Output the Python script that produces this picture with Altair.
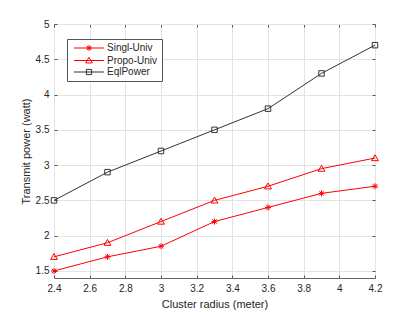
import altair as alt
import pandas as pd

radius = [2.4, 2.7, 3.0, 3.3, 3.6, 3.9, 4.2]
singl_univ = [1.5, 1.7, 1.85, 2.2, 2.4, 2.6, 2.7]
propo_univ = [1.7, 1.9, 2.2, 2.5, 2.7, 2.95, 3.1]
eql_power = [2.5, 2.9, 3.2, 3.5, 3.8, 4.3, 4.7]
series_names = ["Singl-Univ", "Propo-Univ", "EqlPower"]
series_colors = ["#ff0000", "#ff0000", "#333333"]
x_ticks = [2.4, 2.6, 2.8, 3.0, 3.2, 3.4, 3.6, 3.8, 4.0, 4.2]
y_ticks = [1.5, 2, 2.5, 3, 3.5, 4, 4.5, 5]

rows = []
for name, vals in zip(series_names, [singl_univ, propo_univ, eql_power]):
    for r, v in zip(radius, vals):
        rows.append({"radius": r, "power": v, "series": name})
df = pd.DataFrame(rows)

marker_paths = [
    "M0,-1.1L0,1.1M-1.1,0L1.1,0M-0.8,-0.8L0.8,0.8M-0.8,0.8L0.8,-0.8",
    "M0,-1.2L1.25,0.95L-1.25,0.95Z",
    "M-1,-1L1,-1L1,1L-1,1Z",
]
legend_paths = [
    "M-4.3,0L4.3,0M0,-0.85L0,0.85M-0.85,0L0.85,0M-0.6,-0.6L0.6,0.6M-0.6,0.6L0.6,-0.6",
    "M-4.3,0L4.3,0M0,-0.9L0.95,0.7L-0.95,0.7Z",
    "M-4.3,0L4.3,0M-0.75,-0.75L0.75,-0.75L0.75,0.75L-0.75,0.75Z",
]

W, H = 321, 254
xs = alt.Scale(domain=[2.4, 4.2], nice=False, zero=False)
ys = alt.Scale(domain=[1.4, 5], nice=False, zero=False)
color_scale = alt.Scale(domain=series_names, range=series_colors)

base = alt.Chart(df)

lines = base.mark_line(strokeWidth=1).encode(
    x=alt.X("radius:Q", scale=xs, axis=alt.Axis(
        orient="bottom", values=x_ticks, format="~g", title="Cluster radius (meter)",
        grid=True, gridColor="#e3e3e3", ticks=False, domain=False, labelFlush=False,
        labelFontSize=10, labelColor="#262626", labelPadding=5,
        titleFontSize=11, titleFontWeight="normal", titleColor="#262626", titlePadding=5,
        labelFont="Liberation Sans", titleFont="Liberation Sans")),
    y=alt.Y("power:Q", scale=ys, axis=alt.Axis(
        orient="left", values=y_ticks, format="~g", title="Transmit power (watt)",
        grid=True, gridColor="#e3e3e3", ticks=False, domain=False, labelFlush=False,
        labelFontSize=10, labelColor="#262626", labelPadding=5,
        titleFontSize=11, titleFontWeight="normal", titleColor="#262626", titlePadding=4,
        labelFont="Liberation Sans", titleFont="Liberation Sans")),
    color=alt.Color("series:N", scale=color_scale, legend=None),
    detail="series:N",
)

points = base.mark_point(filled=False, size=30, strokeWidth=1, opacity=1).encode(
    x=alt.X("radius:Q", scale=xs, axis=alt.Axis(
        orient="bottom", values=x_ticks, labels=False, ticks=False, domain=False, title=None,
        grid=True, gridColor="#555555", gridDash=[3, H - 6, 3, 1000])),
    y=alt.Y("power:Q", scale=ys, axis=alt.Axis(
        orient="left", values=y_ticks, labels=False, ticks=False, domain=False, title=None,
        grid=True, gridColor="#555555", gridDash=[3, W - 6, 3, 1000])),
    color=alt.Color("series:N", scale=color_scale, legend=None),
    shape=alt.Shape("series:N", scale=alt.Scale(domain=series_names, range=marker_paths), legend=None),
)

leg_cfg = dict(
    title=None, orient="none", legendX=13, legendY=15,
    strokeColor="#555555", fillColor="#ffffff", padding=4, rowPadding=1.5,
    labelFontSize=10, labelFont="Liberation Sans", labelColor="#262626",
    symbolOffset=13, labelOffset=13, symbolSize=49, symbolStrokeWidth=1,
)

legend_layer = base.transform_filter("false").mark_point(filled=False, size=49, strokeWidth=1, opacity=1).encode(
    x=alt.X("radius:Q", scale=xs, axis=None),
    y=alt.Y("power:Q", scale=ys, axis=None),
    color=alt.Color("series:N", scale=alt.Scale(domain=series_names, range=series_colors),
                    legend=alt.Legend(**leg_cfg)),
    shape=alt.Shape("series:N", scale=alt.Scale(domain=series_names, range=legend_paths),
                    legend=alt.Legend(**leg_cfg)),
)

chart = alt.layer(lines, points, legend_layer).resolve_scale(
    color="independent", shape="independent"
).resolve_axis(
    x="independent", y="independent"
).resolve_legend(
    color="independent", shape="independent"
).properties(
    width=W, height=H,
    autosize=alt.AutoSizeParams(type="none"),
    padding={"left": 46, "top": 16, "right": 32, "bottom": 34},
).configure_view(stroke="#666666", strokeWidth=1)

chart.save("out.html", embed_options={"renderer": "svg", "actions": False})
